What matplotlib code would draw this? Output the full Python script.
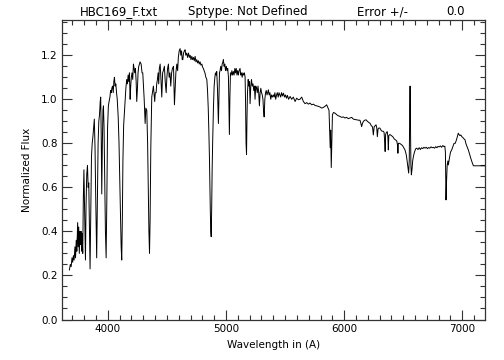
import matplotlib
matplotlib.use('Agg')
import matplotlib.pyplot as plt
import numpy as np
from matplotlib.ticker import MultipleLocator

# spectrum, (wavelength A, normalized flux)
seg_uv = [
    (3675, 0.225), (3683, 0.25), (3690, 0.24), (3697, 0.28), (3703, 0.26), (3709, 0.29),
    (3715, 0.27), (3722, 0.33), (3727, 0.28), (3733, 0.36), (3738, 0.31), (3745, 0.44),
    (3749, 0.33), (3754, 0.42), (3759, 0.30), (3764, 0.40), (3769, 0.34), (3774, 0.40),
    (3778, 0.31), (3783, 0.39), (3788, 0.30), (3793, 0.55), (3798, 0.68), (3803, 0.52),
    (3807, 0.40), (3811, 0.27), (3816, 0.52), (3822, 0.66), (3828, 0.70), (3834, 0.60),
    (3839, 0.62), (3844, 0.45), (3850, 0.23), (3856, 0.50), (3862, 0.74), (3868, 0.80),
    (3874, 0.83), (3880, 0.87), (3886, 0.91), (3892, 0.78), (3898, 0.55), (3906, 0.28),
    (3912, 0.55), (3918, 0.80), (3924, 0.90), (3930, 0.93), (3936, 0.99), (3940, 1.01),
    (3944, 0.85), (3949, 0.57), (3954, 0.80), (3959, 0.95), (3963, 0.97), (3968, 0.88),
    (3974, 0.65), (3980, 0.40), (3986, 0.28), (3992, 0.55), (3998, 0.87),
]
seg_blue = [
    (4005, 0.97), (4011, 0.99), (4018, 1.01), (4024, 1.04), (4030, 1.03), (4034, 1.05),
    (4040, 1.06), (4046, 1.03), (4051, 1.08), (4056, 1.10), (4062, 1.06), (4068, 1.07),
    (4074, 1.03), (4080, 1.00), (4088, 0.92), (4095, 0.80), (4102, 0.62), (4108, 0.45),
    (4113, 0.33), (4118, 0.27), (4123, 0.45), (4128, 0.72), (4134, 0.88), (4141, 0.94),
    (4147, 0.99), (4153, 1.05), (4160, 1.09), (4166, 1.07), (4172, 1.11), (4178, 1.08),
    (4183, 1.12), (4189, 1.00), (4194, 1.06), (4199, 1.10), (4205, 1.12), (4211, 1.09),
    (4217, 1.16), (4223, 1.14), (4228, 1.12), (4234, 1.14), (4240, 1.08), (4245, 0.99),
    (4251, 1.05), (4256, 1.12), (4262, 1.15), (4268, 1.16), (4273, 1.17), (4282, 1.16),
    (4290, 1.12), (4296, 1.12), (4302, 1.06), (4308, 1.00), (4316, 0.89), (4322, 0.96),
    (4330, 0.95), (4337, 0.80), (4343, 0.58), (4348, 0.40), (4353, 0.30), (4358, 0.45),
    (4364, 0.78), (4372, 1.01), (4380, 1.04), (4386, 1.06), (4392, 1.02), (4397, 0.99),
    (4402, 1.03), (4409, 1.03), (4414, 1.07), (4420, 1.09), (4426, 1.12), (4431, 1.07),
    (4436, 1.14), (4443, 1.16), (4449, 1.10), (4457, 1.01), (4464, 1.12), (4470, 1.13),
    (4479, 1.15), (4486, 1.08), (4494, 1.03), (4500, 1.10), (4506, 1.14), (4513, 1.16),
    (4519, 1.10), (4526, 1.12), (4533, 1.06), (4540, 1.12), (4547, 1.14), (4556, 1.15),
    (4560, 1.06), (4564, 0.975), (4570, 1.05), (4576, 1.12), (4584, 1.16), (4591, 1.13),
    (4597, 1.19), (4604, 1.22), (4612, 1.23), (4618, 1.20), (4624, 1.22), (4630, 1.18),
    (4635, 1.18), (4641, 1.21), (4648, 1.22), (4654, 1.225), (4660, 1.20), (4668, 1.21),
    (4675, 1.19), (4683, 1.21), (4690, 1.19), (4697, 1.20), (4704, 1.18), (4711, 1.195),
    (4718, 1.18), (4725, 1.19), (4732, 1.175), (4739, 1.195), (4746, 1.17), (4753, 1.18),
    (4760, 1.165), (4767, 1.175), (4774, 1.16), (4781, 1.17), (4788, 1.155), (4796, 1.16),
    (4803, 1.145), (4809, 1.14), (4815, 1.13), (4822, 1.12), (4830, 1.10), (4838, 1.09),
    (4844, 1.04), (4850, 0.96), (4855, 0.86), (4860, 0.74), (4864, 0.60), (4868, 0.48),
    (4872, 0.40), (4875, 0.376), (4879, 0.50), (4883, 0.68), (4888, 0.82), (4894, 0.96),
    (4900, 1.06), (4906, 1.10), (4911, 1.12), (4917, 1.11), (4922, 1.126), (4928, 1.05),
    (4932, 0.96), (4936, 0.89), (4940, 1.00), (4945, 1.12), (4950, 1.13), (4956, 1.15),
    (4962, 1.13), (4968, 1.16), (4974, 1.17), (4978, 1.18), (4984, 1.15), (4990, 1.16),
    (4996, 1.13), (5003, 1.15), (5009, 1.13), (5015, 1.14), (5021, 1.10), (5025, 0.96),
    (5029, 0.84), (5033, 1.00), (5038, 1.12), (5044, 1.11), (5050, 1.13), (5056, 1.11),
    (5063, 1.126), (5069, 1.11), (5075, 1.14), (5081, 1.12), (5087, 1.14), (5093, 1.11),
    (5099, 1.13), (5105, 1.11), (5111, 1.13), (5119, 1.14), (5125, 1.11), (5131, 1.12),
    (5137, 1.10), (5143, 1.12), (5150, 1.11), (5156, 1.12), (5162, 1.10), (5166, 0.98),
    (5170, 0.80), (5174, 0.75), (5178, 0.92), (5182, 1.03), (5188, 1.09), (5193, 1.06),
    (5199, 1.08), (5204, 0.98), (5210, 1.06), (5216, 1.09), (5222, 1.06), (5229, 1.07),
    (5235, 1.04), (5241, 1.06), (5246, 1.00), (5252, 1.06), (5259, 1.05), (5265, 1.03),
    (5271, 1.06), (5277, 1.03), (5283, 0.97), (5289, 1.03), (5295, 1.05), (5301, 1.03),
    (5307, 1.02), (5313, 1.00), (5318, 0.95), (5323, 0.92), (5329, 1.00), (5335, 1.03),
    (5341, 1.04), (5347, 1.02), (5353, 1.03), (5359, 1.043), (5365, 1.02), (5372, 1.03),
    (5379, 1.00), (5386, 1.02), (5393, 1.01), (5402, 1.02), (5408, 1.01), (5414, 1.03),
    (5421, 1.00), (5428, 1.02), (5435, 1.03), (5442, 1.01), (5449, 1.03), (5456, 1.02),
    (5463, 1.01), (5470, 1.03),
]
seg_red = [
    (5478, 1.015), (5486, 1.028), (5495, 1.01), (5503, 1.02), (5512, 1.005), (5520, 1.018),
    (5530, 1.00), (5543, 1.013), (5556, 1.00), (5570, 1.01), (5585, 0.99), (5598, 1.005),
    (5613, 0.998), (5626, 1.00), (5641, 1.01), (5655, 0.99), (5669, 0.98), (5683, 0.985),
    (5697, 0.978), (5711, 0.983), (5725, 0.975), (5740, 0.978), (5754, 0.972), (5768, 0.97),
    (5782, 0.968), (5796, 0.965), (5810, 0.96), (5824, 0.963), (5838, 0.968), (5852, 0.975),
    (5864, 0.96), (5872, 0.95), (5878, 0.85), (5882, 0.78), (5886, 0.86), (5891, 0.69),
    (5896, 0.80), (5901, 0.93), (5910, 0.94), (5923, 0.937), (5937, 0.93), (5951, 0.925),
    (5965, 0.922), (5979, 0.918), (5993, 0.92), (6007, 0.915), (6021, 0.918), (6035, 0.912),
    (6050, 0.915), (6064, 0.918), (6078, 0.91), (6092, 0.908), (6106, 0.907), (6120, 0.905),
    (6134, 0.905), (6142, 0.89), (6148, 0.876), (6155, 0.89), (6163, 0.90), (6175, 0.905),
    (6185, 0.907), (6197, 0.90), (6208, 0.895), (6219, 0.891), (6230, 0.88), (6240, 0.875),
    (6247, 0.838), (6254, 0.875), (6262, 0.88), (6270, 0.884), (6276, 0.87), (6281, 0.83),
    (6287, 0.865), (6295, 0.87), (6303, 0.869), (6312, 0.86), (6320, 0.855), (6330, 0.855),
    (6338, 0.85), (6344, 0.80), (6347, 0.763), (6351, 0.84), (6358, 0.85), (6365, 0.853),
    (6370, 0.83), (6374, 0.77), (6378, 0.835), (6388, 0.84), (6400, 0.835), (6412, 0.83),
    (6424, 0.82), (6436, 0.815), (6446, 0.81), (6452, 0.79), (6455, 0.755), (6459, 0.80),
    (6470, 0.80), (6482, 0.795), (6494, 0.79), (6505, 0.78), (6515, 0.77), (6525, 0.75),
    (6533, 0.72), (6540, 0.69), (6546, 0.665), (6551, 0.72), (6555, 0.95), (6558, 1.06),
    (6561, 0.90), (6565, 0.70), (6569, 0.657), (6574, 0.68), (6580, 0.72), (6586, 0.74),
    (6595, 0.76), (6605, 0.775), (6614, 0.778), (6625, 0.772), (6635, 0.78), (6645, 0.772),
    (6655, 0.78), (6665, 0.776), (6675, 0.782), (6685, 0.778), (6695, 0.782), (6705, 0.776),
    (6715, 0.781), (6725, 0.778), (6735, 0.784), (6745, 0.78), (6755, 0.782), (6765, 0.778),
    (6775, 0.785), (6785, 0.78), (6795, 0.786), (6805, 0.784), (6815, 0.788), (6825, 0.782),
    (6835, 0.79), (6845, 0.785), (6852, 0.787), (6857, 0.76), (6862, 0.543), (6866, 0.62),
    (6872, 0.70), (6878, 0.72), (6882, 0.702), (6890, 0.73), (6900, 0.76), (6910, 0.77),
    (6920, 0.785), (6930, 0.80), (6940, 0.80), (6950, 0.815), (6958, 0.83), (6966, 0.846),
    (6972, 0.84), (6980, 0.835), (6988, 0.838), (6995, 0.831), (7005, 0.826), (7015, 0.82),
    (7023, 0.816), (7030, 0.80), (7040, 0.785), (7051, 0.77), (7062, 0.75), (7073, 0.73),
    (7084, 0.712), (7094, 0.698), (7120, 0.698), (7150, 0.698), (7192, 0.698),
]

x_ticks = [4000, 5000, 6000, 7000]
y_ticks = [0.0, 0.2, 0.4, 0.6, 0.8, 1.0, 1.2]

spec = np.array(seg_uv + seg_blue + seg_red)
wave = spec[:, 0]
flux = spec[:, 1]

plt.rcParams['font.family'] = 'DejaVu Sans'
fig = plt.figure(figsize=(5.04, 3.6), dpi=100)
ax = fig.add_axes([0.1236, 0.1125, 0.9623 - 0.1236, 0.9444 - 0.1125])

ax.plot(wave, flux, color='black', lw=0.7)

ax.set_xlim(3615, 7192)
ax.set_ylim(0, 1.36)
ax.set_xticks(x_ticks)
ax.set_xticklabels([str(t) for t in x_ticks])
ax.set_yticks(y_ticks)
ax.set_yticklabels([f'{t:.1f}' for t in y_ticks])
ax.xaxis.set_minor_locator(MultipleLocator(100))
ax.yaxis.set_minor_locator(MultipleLocator(0.05))
ax.tick_params(which='both', direction='in', top=True, right=True, labelsize=7.5,
               width=0.8, colors='#333333', labelcolor='black')
ax.tick_params(which='major', length=7)
ax.tick_params(which='minor', length=3.5)
for s in ax.spines.values():
    s.set_linewidth(0.9)
    s.set_color('#333333')

ax.set_xlabel('Wavelength in (A)', fontsize=7.5, labelpad=4)
ax.set_ylabel('Normalized Flux', fontsize=7.5, labelpad=6)

fig.text(0.159, 0.967, 'HBC169_F.txt', fontsize=8.5, va='center')
fig.text(0.373, 0.967, 'Sptype: Not Defined', fontsize=8.5, va='center')
fig.text(0.708, 0.967, 'Error +/-', fontsize=8.5, va='center')
fig.text(0.885, 0.967, '0.0', fontsize=8.5, va='center')

fig.savefig('out.png', dpi=100)
